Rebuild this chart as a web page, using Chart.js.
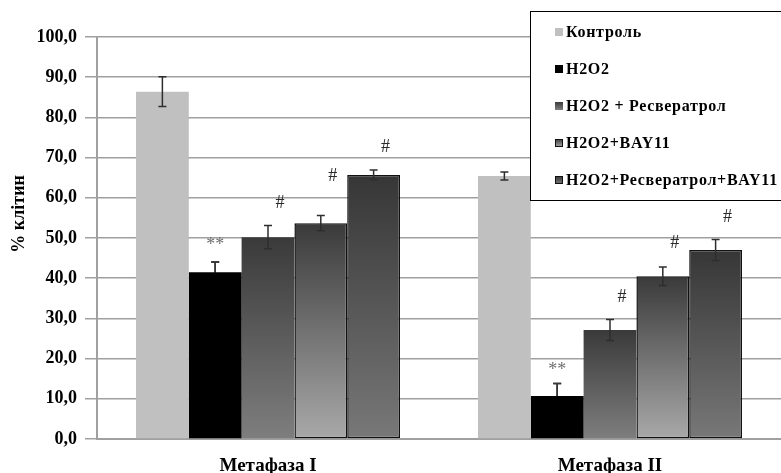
<!DOCTYPE html>
<html>
<head>
<meta charset="utf-8">
<script src="https://cdn.jsdelivr.net/npm/chart.js@4.4.1/dist/chart.umd.min.js"></script>
<style>
  html, body { margin: 0; padding: 0; background: #ffffff; }
  #wrap { position: relative; width: 781px; height: 473px; }
  canvas { display: block; }
</style>
</head>
<body>
<div id="wrap"><canvas id="c" width="781" height="473"></canvas></div>
<script>
// ---- data ----
const categories = ['Метафаза I', 'Метафаза II'];
const seriesLabels = ['Контроль', 'H2O2', 'H2O2 + Ресвератрол', 'H2O2+BAY11', 'H2O2+Ресвератрол+BAY11'];
const yTitle = '% клітин';

const controlValues = [86.4, 65.4];
const h2o2Values    = [41.5, 10.7];
const resValues     = [50.2, 27.1];
const bayValues     = [53.7, 40.5];
const resBayValues  = [65.7, 47.0];

const controlErr = [3.7, 1.0];
const h2o2Err    = [2.5, 3.1];
const resErr     = [2.9, 2.6];
const bayErr     = [1.9, 2.3];
const resBayErr  = [1.2, 2.6];

// significance marks and the value level at which each sits
const controlMarks = ['', ''];
const h2o2Marks    = ['**', '**'];
const resMarks     = ['#', '#'];
const bayMarks     = ['#', '#'];
const resBayMarks  = ['#', '#'];

const h2o2MarkAt   = [49.0, 17.9];
const resMarkAt    = [58.7, 35.3];
const bayMarkAt    = [65.4, 48.8];
const resBayMarkAt = [72.6, 55.2];

const yTicks = [0, 10, 20, 30, 40, 50, 60, 70, 80, 90, 100];

// ---- styles ----
const SERIF = '"Liberation Serif", "Times New Roman", serif';

function gradientFill(topColor, bottomColor) {
  return function (ctx) {
    const chart = ctx.chart;
    const ys = chart.scales && chart.scales.y;
    if (!ys || ctx.type !== 'data' || !chart.chartArea) return bottomColor;
    const y0 = ys.getPixelForValue(ctx.raw);
    const y1 = ys.getPixelForValue(0);
    if (!isFinite(y0) || !isFinite(y1) || y0 === y1) return bottomColor;
    const g = chart.ctx.createLinearGradient(0, y0, 0, y1);
    g.addColorStop(0, topColor);
    g.addColorStop(1, bottomColor);
    return g;
  };
}

const styles = [
  { top: '#c0c0c0', bottom: '#c0c0c0', border: 0 },
  { top: '#000000', bottom: '#000000', border: 0 },
  { top: '#3a3a3a', bottom: '#7e7e7e', border: 0 },
  { top: '#3a3a3a', bottom: '#a9a9a9', border: 1.5 },
  { top: '#363636', bottom: '#787878', border: 1.5 },
];

const allValues = [controlValues, h2o2Values, resValues, bayValues, resBayValues];
const allErr = [controlErr, h2o2Err, resErr, bayErr, resBayErr];
const allMarks = [controlMarks, h2o2Marks, resMarks, bayMarks, resBayMarks];
const allMarkAt = [[0, 0], h2o2MarkAt, resMarkAt, bayMarkAt, resBayMarkAt];

const datasets = seriesLabels.map((lab, i) => ({
  label: lab,
  data: allValues[i],
  errors: allErr[i],
  marks: allMarks[i],
  markAt: allMarkAt[i],
  backgroundColor: styles[i].top === styles[i].bottom ? styles[i].top : gradientFill(styles[i].top, styles[i].bottom),
  borderColor: '#111111',
  borderWidth: styles[i].border,
  borderSkipped: false,
  categoryPercentage: 0.772,
  barPercentage: 1.0,
}));

// error bars + significance marks
const errorBarPlugin = {
  id: 'errorBars',
  afterDatasetsDraw(chart) {
    const ctx = chart.ctx;
    const ys = chart.scales.y;
    chart.data.datasets.forEach((ds, di) => {
      const meta = chart.getDatasetMeta(di);
      meta.data.forEach((bar, i) => {
        const v = ds.data[i], e = ds.errors[i];
        const x = bar.x;
        const yt = ys.getPixelForValue(v + e);
        const yb = ys.getPixelForValue(v - e);
        ctx.save();
        ctx.strokeStyle = di === 1 ? '#000000' : '#2e2e2e';
        ctx.lineWidth = 1.5;
        ctx.beginPath();
        ctx.moveTo(x, yt); ctx.lineTo(x, yb);
        ctx.moveTo(x - 4, yt); ctx.lineTo(x + 4, yt);
        ctx.moveTo(x - 4, yb); ctx.lineTo(x + 4, yb);
        ctx.stroke();
        if (di === 1) {
          // part over the black bar is invisible; redraw the part above it in grey
          ctx.strokeStyle = '#3a3a3a';
          ctx.beginPath();
          ctx.moveTo(x, yt); ctx.lineTo(x, ys.getPixelForValue(v));
          ctx.moveTo(x - 4, yt); ctx.lineTo(x + 4, yt);
          ctx.stroke();
        }
        const m = ds.marks[i];
        if (m) {
          const my = ys.getPixelForValue(ds.markAt[i]);
          ctx.font = '18px ' + SERIF;
          ctx.textAlign = 'center';
          ctx.textBaseline = 'middle';
          if (m === '**') {
            ctx.fillStyle = '#6e6e6e';
            ctx.fillText(m, x, my + 3);
          } else {
            ctx.fillStyle = '#2a2a2a';
            ctx.fillText(m, x + 12, my);
          }
        }
        ctx.restore();
      });
    });
  }
};

// rotated y-axis title (sits a little above the middle of the axis)
const yTitlePlugin = {
  id: 'yTitle',
  afterDraw(chart) {
    const ctx = chart.ctx;
    const a = chart.chartArea;
    ctx.save();
    ctx.translate(19, a.top + (a.bottom - a.top) * 0.44);
    ctx.rotate(-Math.PI / 2);
    ctx.fillStyle = '#000';
    ctx.font = 'bold 18px ' + SERIF;
    ctx.textAlign = 'center';
    ctx.textBaseline = 'middle';
    ctx.fillText(yTitle, 0, 0);
    ctx.restore();
  }
};

// legend box drawn over the plot
const legendPlugin = {
  id: 'boxLegend',
  afterDraw(chart) {
    const ctx = chart.ctx;
    const bx = 530.5, by = 11.5, bw = 252, bh = 189;
    ctx.save();
    ctx.fillStyle = '#ffffff';
    ctx.fillRect(bx, by, bw, bh);
    ctx.strokeStyle = '#000000';
    ctx.lineWidth = 1;
    ctx.strokeRect(bx, by, bw, bh);
    const rowY0 = 32, rowStep = 37;
    chart.data.datasets.forEach((ds, i) => {
      const cy = rowY0 + i * rowStep;
      const sx = 555, sy = cy - 4, s = 8;
      const st = styles[i];
      if (st.top === st.bottom) {
        ctx.fillStyle = st.top;
      } else {
        const g = ctx.createLinearGradient(0, sy, 0, sy + s);
        g.addColorStop(0, st.top); g.addColorStop(1, st.bottom);
        ctx.fillStyle = g;
      }
      ctx.fillRect(sx, sy, s, s);
      if (st.border) {
        ctx.strokeStyle = '#111';
        ctx.lineWidth = 1;
        ctx.strokeRect(sx + 0.5, sy + 0.5, s - 1, s - 1);
      }
      ctx.fillStyle = '#000000';
      ctx.font = 'bold 16px ' + SERIF;
      ctx.letterSpacing = '0.7px';
      ctx.textAlign = 'left';
      ctx.textBaseline = 'middle';
      ctx.fillText(ds.label, 566, cy + 1);
      ctx.letterSpacing = '0px';
    });
    ctx.restore();
  }
};

new Chart(document.getElementById('c'), {
  type: 'bar',
  data: { labels: categories, datasets },
  options: {
    responsive: false,
    animation: false,
    devicePixelRatio: 1,
    layout: { padding: { top: 37, right: -3, bottom: 0, left: 0 } },
    plugins: {
      legend: { display: false },
      tooltip: { enabled: false },
    },
    scales: {
      x: {
        grid: { display: false, drawTicks: false },
        border: { display: true, color: '#a0a0a0', width: 2 },
        ticks: {
          color: '#000',
          font: { family: SERIF, size: 19, weight: 'bold' },
          padding: 16,
        },
        afterFit(s) { s.height = 34; },
      },
      y: {
        min: 0,
        max: 100,
        afterBuildTicks(s) { s.ticks = yTicks.map(v => ({ value: v })); },
        grid: { color: '#a0a0a0', lineWidth: 1.5, tickLength: 12, drawTicks: true },
        border: { display: true, color: '#a0a0a0', width: 2 },
        ticks: {
          color: '#000',
          font: { family: SERIF, size: 18, weight: 'bold' },
          padding: 8,
          callback: v => v.toFixed(1).replace('.', ','),
        },
        title: { display: false },
        afterFit(s) { s.width = 97; },
      },
    },
  },
  plugins: [errorBarPlugin, yTitlePlugin, legendPlugin],
});
</script>
</body>
</html>
